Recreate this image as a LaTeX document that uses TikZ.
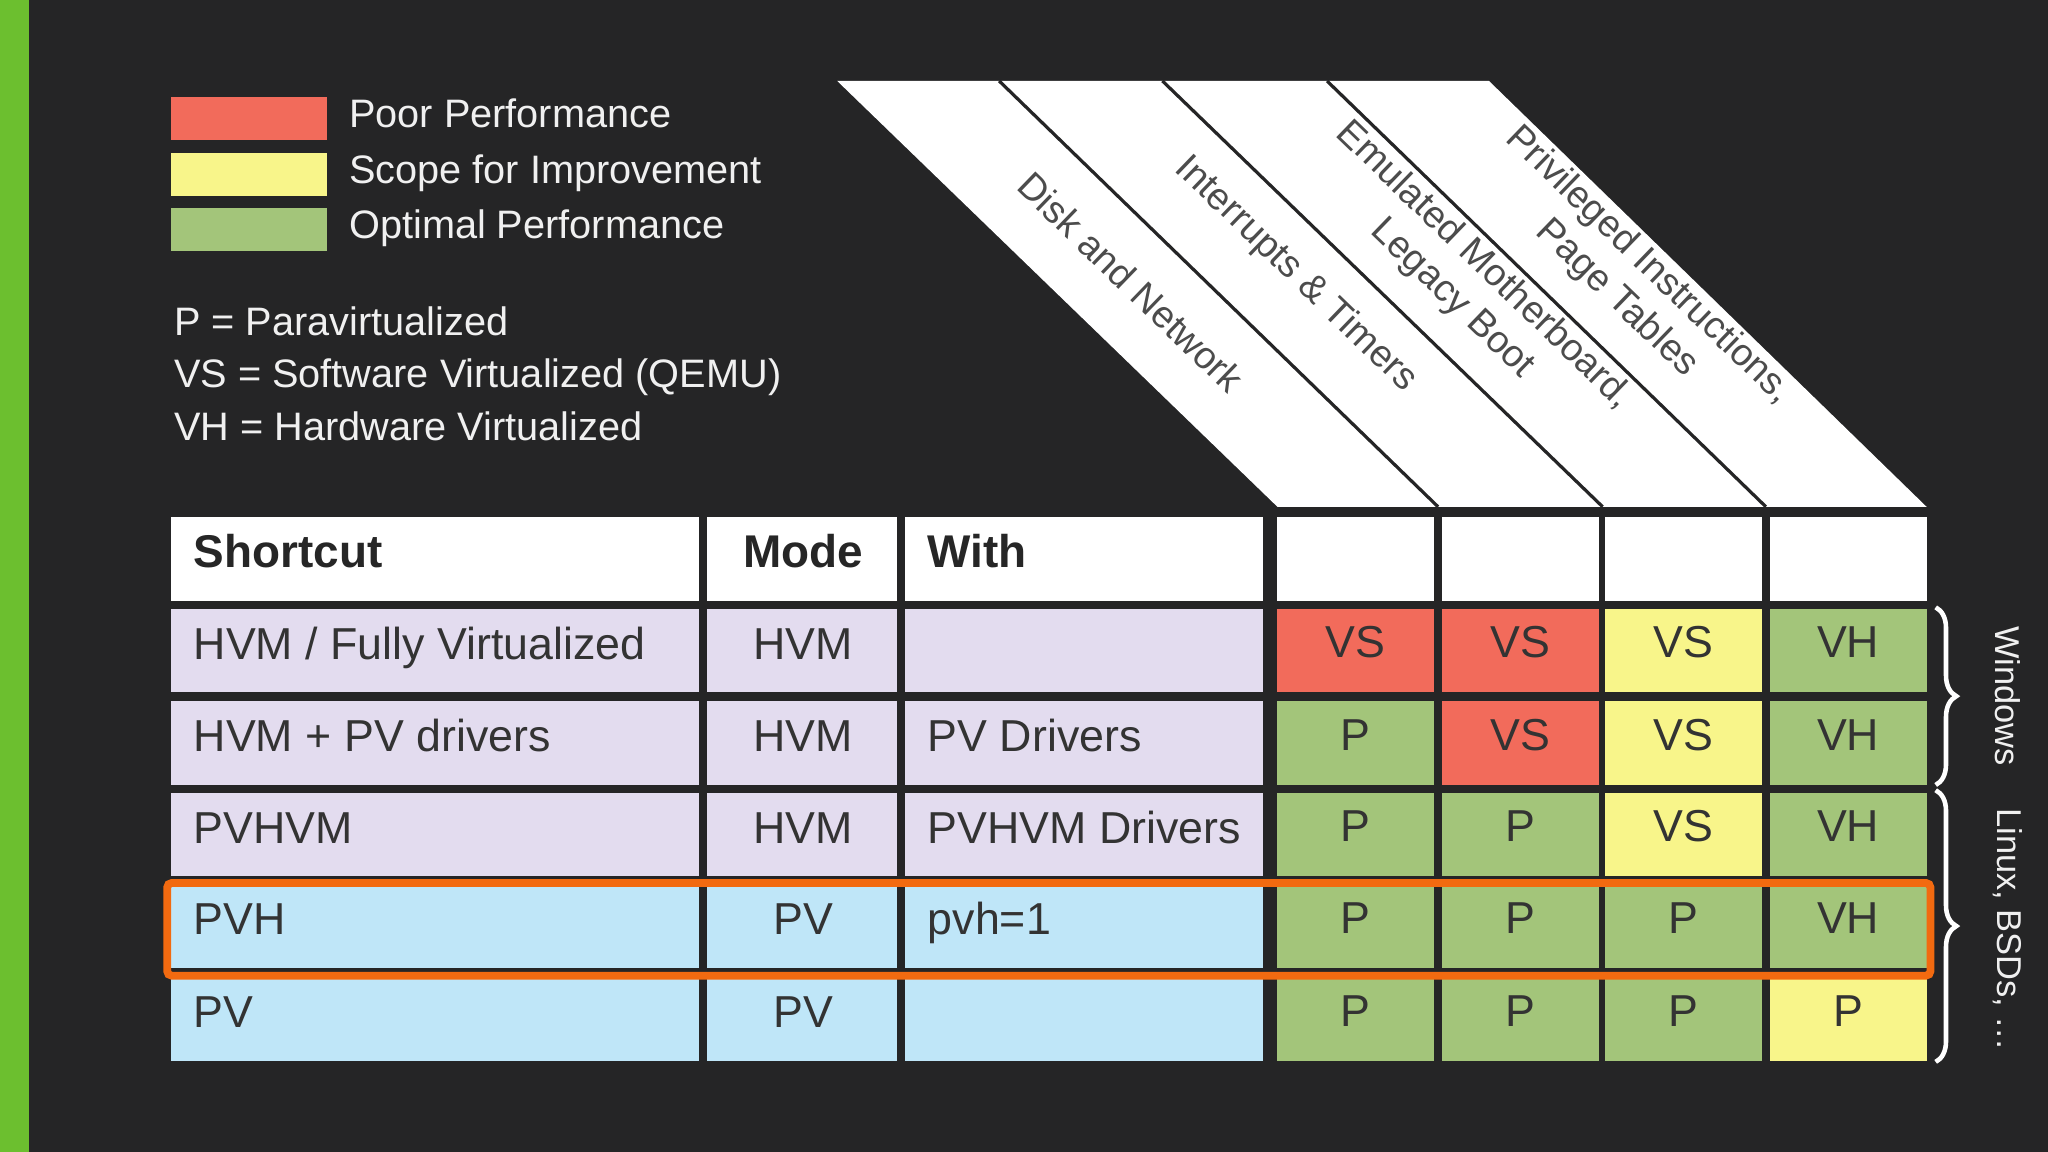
\documentclass[tikz,border=0pt]{standalone}
\usepackage{fontspec}
\setmainfont{Liberation Sans}
\usetikzlibrary{decorations.pathreplacing}
\definecolor{bg}{HTML}{252526}
\definecolor{cred}{HTML}{F26B5B}
\definecolor{cyel}{HTML}{F8F58A}
\definecolor{cgrn}{HTML}{A3C57A}
\definecolor{clav}{HTML}{E3DCEF}
\definecolor{cblu}{HTML}{BFE6F8}
\definecolor{corg}{HTML}{F26A10}
\definecolor{lgt}{HTML}{F0F0F0}
\definecolor{strip}{HTML}{6CBF2F}
\begin{document}
\begin{tikzpicture}[x=0.02cm,y=-0.02cm,
  legtxt/.style={anchor=west,text=lgt,font=\fontsize{17.3}{20}\selectfont,inner sep=0,text height=1.6ex,text depth=0.4ex},
  celltxt/.style={text=black!80,font=\fontsize{19.5}{22}\selectfont,inner sep=0,text height=1.6ex,text depth=0.4ex},
  headtxt/.style={text=black!85,font=\fontsize{20}{24}\selectfont\bfseries,inner sep=0,text height=1.6ex,text depth=0.4ex},
  slanttxt/.style={text=black!70,font=\fontsize{16.5}{20}\selectfont,rotate=-44,align=center,inner sep=0},
  celln/.style={minimum width=2.4cm,minimum height=1.28cm,inner sep=0,text=black!80,font=\fontsize{19.5}{22}\selectfont,text height=1.6ex,text depth=0.4ex}]
\useasboundingbox (0,0) rectangle (1568,882);
\fill[bg] (0,0) rectangle (1568,882);
\fill[strip] (0,0) rectangle (22,882);
% legend
\fill[cred] (131,74) rectangle (250,107);
\fill[cyel] (131,117) rectangle (250,150);
\fill[cgrn] (131,159) rectangle (250,192);
\node[legtxt] (l1) at (267,92) {Poor Performance};
\node[legtxt] (l2) at (267,135) {Scope for Improvement};
\node[legtxt] (l3) at (267,177) {Optimal Performance};
\node[legtxt] (p1) at (133,251) {P = Paravirtualized};
\node[legtxt] (p2) at (133,291) {VS = Software Virtualized (QEMU)};
\node[legtxt] (p3) at (133,332) {VH = Hardware Virtualized};
% slanted header
\fill[white] (641,62) -- (1140,62) -- (1475,388) -- (978,388) -- cycle;
\foreach \a/\b in {765/1101,890/1227,1016/1352}
  \draw[bg,line width=1.4pt] (\a,62) -- (\b,388);
\fill[bg] (960,388) rectangle (1480,395);
\node[slanttxt] (s1) at (866,216) {Disk and Network};
\node[slanttxt] (s2) at (992,210) {Interrupts \& Timers};
\node[slanttxt] (s3) at (1124,216) {Emulated Motherboard,\\Legacy Boot};
\node[slanttxt] (s4) at (1250,216) {Privileged Instructions,\\Page Tables};
% header row
\fill[white] (131,396) rectangle (535,460);
\fill[white] (541,396) rectangle (687,460);
\fill[white] (693,396) rectangle (967,460);
\foreach \x in {978,1104,1229,1355} \fill[white] (\x,396) rectangle ++(120,64);
\node[headtxt,anchor=west] (h1) at (148,429) {Shortcut};
\node[headtxt] (h2) at (615,429) {Mode};
\node[headtxt,anchor=west] (h3) at (710,429) {With};
% rows
\foreach \y/\c/\s/\m/\w/\ca/\ta/\cb/\tb/\cc/\tc/\cd/\td [count=\i] in {
  466/clav/{HVM / Fully Virtualized}/HVM//cred/VS/cred/VS/cyel/VS/cgrn/VH,
  537/clav/HVM + PV drivers/HVM/PV Drivers/cgrn/P/cred/VS/cyel/VS/cgrn/VH,
  607/clav/PVHVM/HVM/PVHVM Drivers/cgrn/P/cgrn/P/cyel/VS/cgrn/VH,
  677/cblu/PVH/PV/pvh=1/cgrn/P/cgrn/P/cgrn/P/cgrn/VH,
  748/cblu/PV/PV//cgrn/P/cgrn/P/cgrn/P/cyel/P}{
  \fill[\c] (131,\y) rectangle (535,\y+64);
  \fill[\c] (541,\y) rectangle (687,\y+64);
  \fill[\c] (693,\y) rectangle (967,\y+64);
  \node[celltxt,anchor=west] (s\i) at (148,\y+33) {\s};
  \node[celltxt] (m\i) at (615,\y+33) {\m};
  \node[celltxt,anchor=west] (w\i) at (710,\y+33) {\w};
  \node[celln,fill=\ca] (a\i) at (1038,\y+32) {\ta};
  \node[celln,fill=\cb] (b\i) at (1164,\y+32) {\tb};
  \node[celln,fill=\cc] (c\i) at (1289,\y+32) {\tc};
  \node[celln,fill=\cd] (d\i) at (1415,\y+32) {\td};
}
% highlight
\draw[corg,line width=3.4pt,rounded corners=2pt] (128,676) rectangle (1478,747);
% brackets
\draw[white,line width=2pt,decorate,decoration={brace,amplitude=9pt}] (1482,465) -- (1482,601);
\draw[white,line width=2pt,decorate,decoration={brace,amplitude=9pt}] (1482,605) -- (1482,813);
\node[text=lgt,font=\fontsize{15}{18}\selectfont,rotate=-90] (win) at (1537,533) {Windows};
\node[text=lgt,font=\fontsize{15}{18}\selectfont,rotate=-90] (lin) at (1537,712) {Linux, BSDs, \dots};
\end{tikzpicture}
\end{document}
